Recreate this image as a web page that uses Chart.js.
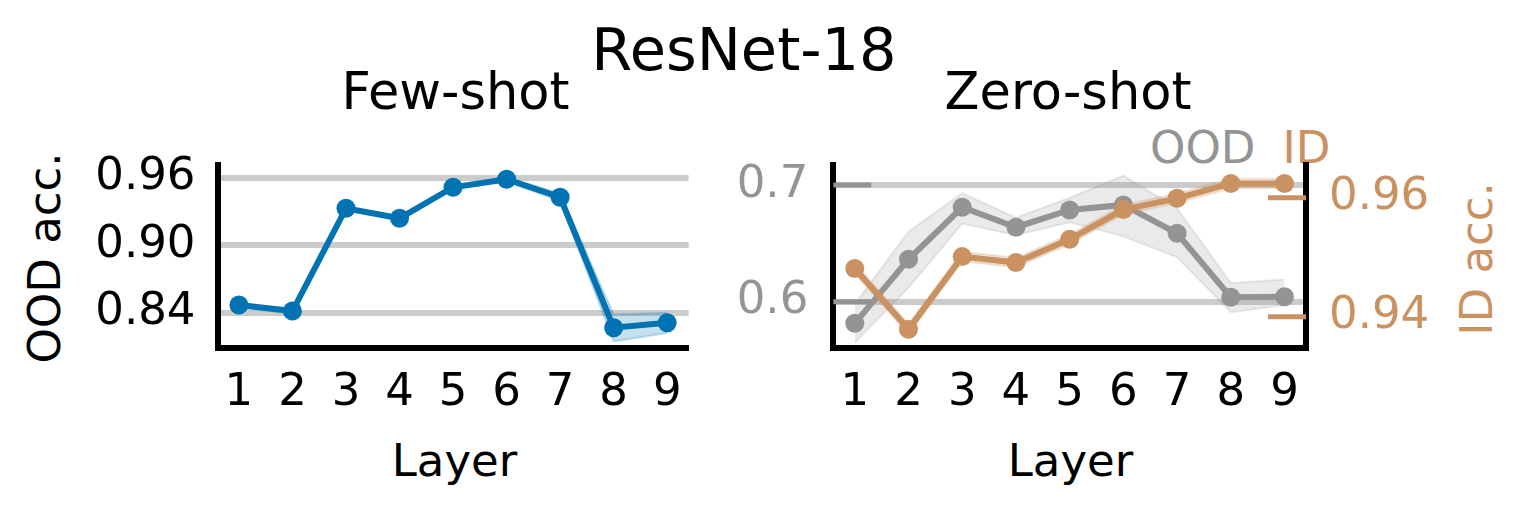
<!DOCTYPE html>
<html>
<head>
<meta charset="utf-8">
<script src="https://cdn.jsdelivr.net/npm/chart.js@4.4.1/dist/chart.umd.min.js"></script>
<style>
  html, body { margin: 0; padding: 0; background: #fff; }
  body { width: 1524px; height: 509px; position: relative; overflow: hidden; font-family: 'DejaVu Sans', sans-serif; }
  .box { position: absolute; top: 0; height: 509px; }
  .txt { position: absolute; white-space: nowrap; line-height: 1; color: #000; }
  .center { transform: translateX(-50%); }
  .rot { transform: translate(-50%, -50%) rotate(-90deg); }
</style>
</head>
<body>
<div class="txt center" style="left:744px; top:19.5px; font-size:59px;">ResNet-18</div>
<div class="txt center" style="left:455.5px; top:65.5px; font-size:51px;">Few-shot</div>
<div class="txt center" style="left:1068px; top:65.5px; font-size:51px;">Zero-shot</div>
<div class="txt center" style="left:454.5px; top:438px; font-size:45px;">Layer</div>
<div class="txt center" style="left:1070.5px; top:438px; font-size:45px;">Layer</div>
<div class="txt rot" style="left:44.4px; top:258.4px; font-size:45px;">OOD acc.</div>
<div class="txt rot" style="left:1476px; top:259px; font-size:45px; color:#ca9161;">ID acc.</div>
<div class="txt" style="left:1150px; top:124.6px; font-size:45px; color:#949494;">OOD</div>
<div class="txt" style="left:1282.4px; top:124.6px; font-size:45px; color:#ca9161;">ID</div>

<div class="box" style="left:0; width:700px;"><canvas id="few"></canvas></div>
<div class="box" style="left:700px; width:824px;"><canvas id="zero"></canvas></div>

<script>
// layers on the x axis
const layers = [1, 2, 3, 4, 5, 6, 7, 8, 9]

// Few-shot OOD accuracy (mean and band)
const fewOod = [0.8468, 0.8415, 0.9328, 0.9239, 0.9515, 0.9586, 0.9426, 0.8267, 0.8311]
const fewOodLow = [0.8445, 0.8392, 0.9310, 0.9222, 0.9500, 0.9568, 0.9390, 0.8145, 0.8220]
const fewOodHigh = [0.8485, 0.8432, 0.9345, 0.9255, 0.9530, 0.9603, 0.9460, 0.8385, 0.8400]

// Zero-shot OOD accuracy (left axis)
const zeroOod = [0.5815, 0.6363, 0.6809, 0.6638, 0.6786, 0.6829, 0.6586, 0.6038, 0.6043]
const zeroOodLow = [0.565, 0.612, 0.667, 0.657, 0.668, 0.656, 0.638, 0.591, 0.597]
const zeroOodHigh = [0.598, 0.660, 0.693, 0.672, 0.689, 0.708, 0.680, 0.616, 0.619]

// Zero-shot ID accuracy (right axis)
const zeroId = [0.9481, 0.9379, 0.9501, 0.9491, 0.9530, 0.9580, 0.9599, 0.9624, 0.9624]
const zeroIdLow = [0.9473, 0.9370, 0.9493, 0.9483, 0.9522, 0.9572, 0.9591, 0.9616, 0.9616]
const zeroIdHigh = [0.9490, 0.9388, 0.9509, 0.9499, 0.9538, 0.9588, 0.9607, 0.9632, 0.9632]

// tick values and labels
const fewTicks = [0.84, 0.90, 0.96]
const fewTickLabels = ['0.84', '0.90', '0.96']
const oodTicks = [0.6, 0.7]
const oodTickLabels = ['0.6', '0.7']
const idTicks = [0.94, 0.96]
const idTickLabels = ['0.94', '0.96']

const blue = '#0173b2'
const gray = '#949494'
const orange = '#ca9161'

Chart.defaults.font.family = "'DejaVu Sans', sans-serif"
Chart.defaults.animation = false

function pts(ys) {
    return layers.map((x, i) => ({x: x, y: ys[i]}))
}

// band = lower (no fill) + upper (fill to previous)
function band(low, high, rgba, axis, order) {
    return [
        {data: pts(low), borderColor: rgba, borderWidth: 2, pointRadius: 0, fill: false, yAxisID: axis, order: order},
        {data: pts(high), borderColor: rgba, borderWidth: 2, pointRadius: 0, fill: '-1', backgroundColor: rgba, yAxisID: axis, order: order}
    ]
}

function line(ys, color, axis, order) {
    return {data: pts(ys), borderColor: color, backgroundColor: color, borderWidth: 6,
        pointRadius: 9.5, pointBorderWidth: 0, pointBackgroundColor: color, fill: false, yAxisID: axis, order: order}
}

function xScale() {
    return {
        type: 'linear', min: 0.6, max: 9.4,
        afterBuildTicks: s => { s.ticks = layers.map(v => ({value: v})) },
        afterFit: s => { s.height = 160.7 },
        ticks: {color: '#000', font: {size: 45, lineHeight: 1.2}, padding: 18, callback: v => String(v)},
        grid: {display: false, drawTicks: false},
        border: {display: true, color: '#000', width: 6}
    }
}

function yScale(min, max, vals, labels, color, width, pad, pos, showGrid) {
    return {
        type: 'linear', position: pos, min: min, max: max,
        afterBuildTicks: s => { s.ticks = vals.map(v => ({value: v})) },
        afterFit: s => { s.width = width },
        ticks: {color: color, font: {size: 45}, padding: pad, callback: (v, i) => labels[i]},
        grid: {display: showGrid, drawTicks: false, color: '#cccccc', lineWidth: 6},
        border: {display: true, color: '#000', width: 6}
    }
}

const common = {
    responsive: true,
    maintainAspectRatio: false,
    plugins: {legend: {display: false}, tooltip: {enabled: false}},
    elements: {line: {tension: 0}}
}

// Few-shot panel
new Chart(document.getElementById('few'), {
    type: 'line',
    data: {
        datasets: [
            line(fewOod, blue, 'y', 0),
            ...band(fewOodLow, fewOodHigh, 'rgba(1,115,178,0.22)', 'y', 1)
        ]
    },
    options: {
        ...common,
        layout: {padding: {top: 165, right: 10.5, bottom: 0, left: 0}},
        scales: {
            x: xScale(),
            y: yScale(0.80836, 0.97129, fewTicks, fewTickLabels, '#000', 217.5, 22, 'left', true)
        }
    }
})

// inward tick marks for the zero-shot panel
const inwardTicks = {
    id: 'inwardTicks',
    afterDatasetsDraw(chart) {
        const {ctx, chartArea, scales} = chart
        ctx.save()
        ctx.lineWidth = 5
        ctx.strokeStyle = gray
        oodTicks.forEach(v => {
            const y = scales.y.getPixelForValue(v)
            ctx.beginPath()
            ctx.moveTo(chartArea.left, y)
            ctx.lineTo(chartArea.left + 38, y)
            ctx.stroke()
        })
        ctx.strokeStyle = orange
        idTicks.forEach(v => {
            const y = scales.y2.getPixelForValue(v)
            ctx.beginPath()
            ctx.moveTo(chartArea.right - 38, y)
            ctx.lineTo(chartArea.right, y)
            ctx.stroke()
        })
        ctx.restore()
    }
}

// Zero-shot panel
new Chart(document.getElementById('zero'), {
    type: 'line',
    data: {
        datasets: [
            line(zeroId, orange, 'y2', 0),
            ...band(zeroIdLow, zeroIdHigh, 'rgba(202,145,97,0.22)', 'y2', 1),
            line(zeroOod, gray, 'y', 2),
            ...band(zeroOodLow, zeroOodHigh, 'rgba(148,148,148,0.2)', 'y', 3)
        ]
    },
    options: {
        ...common,
        layout: {padding: {top: 165, right: 0, bottom: 0, left: 0}},
        scales: {
            x: xScale(),
            y: yScale(0.5601, 0.7171, oodTicks, oodTickLabels, gray, 133.3, 25, 'left', true),
            y2: yScale(0.93469, 0.96550, idTicks, idTickLabels, orange, 218, 23, 'right', false)
        }
    },
    plugins: [inwardTicks]
})
</script>
</body>
</html>
